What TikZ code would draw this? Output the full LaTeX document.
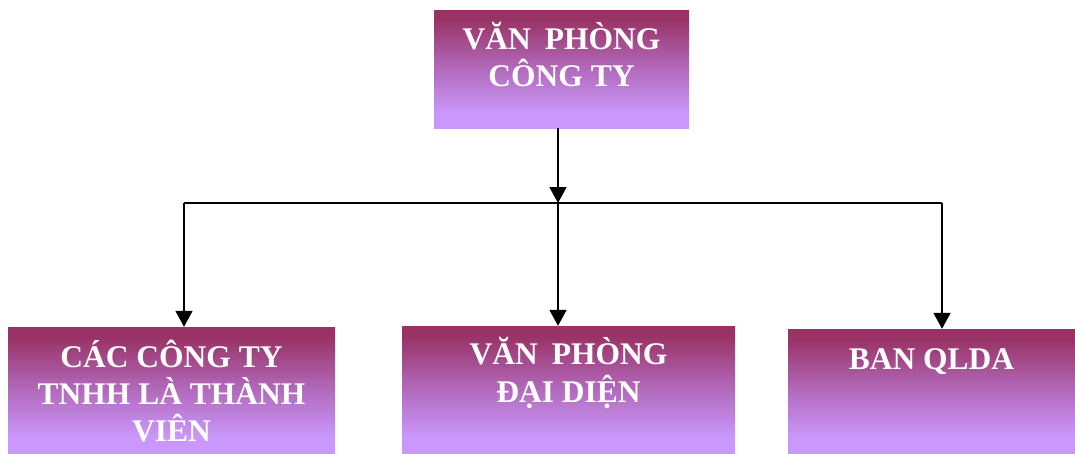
\documentclass[tikz,border=0pt]{standalone}
\usepackage{fontspec}
\setmainfont{Liberation Serif}
\usetikzlibrary{arrows.meta}
\definecolor{boxdark}{RGB}{153,51,102}
\definecolor{boxmid}{RGB}{178,106,188}
\definecolor{boxlight}{RGB}{202,152,252}
\pgfdeclareverticalshading{boxshade}{100bp}{color(0bp)=(boxlight); color(25bp)=(boxlight); color(31bp)=(boxlight); color(50bp)=(boxmid); color(71bp)=(boxdark); color(75bp)=(boxdark); color(100bp)=(boxdark)}
\tikzset{
  orgbox/.style={rectangle, draw=none, shading=boxshade, inner sep=0pt},
  boxtext/.style={anchor=base, text=white, inner sep=0pt, font=\fontsize{31.5}{37}\selectfont\bfseries},
  conn/.style={line width=1.8pt, draw=black},
  arr/.style={conn, -{Triangle[width=17pt,length=16pt]}}
}
\begin{document}
\begin{tikzpicture}[x=1pt,y=-1pt]
\useasboundingbox (0,0) rectangle (1075,453);
% boxes
\node[orgbox, minimum width=255pt, minimum height=118pt] (top) at (561.5,69) {};
\node[orgbox, minimum width=327pt, minimum height=126pt] (left) at (171.5,390) {};
\node[orgbox, minimum width=333pt, minimum height=127pt] (mid) at (568.5,389.5) {};
\node[orgbox, minimum width=287pt, minimum height=124pt] (right) at (931.5,391) {};
% texts
\node[boxtext] (t1) at ([yshift=-40pt]top.north) {VĂN\hspace{0.2em} PHÒNG};
\node[boxtext] (t2) at ([yshift=-77pt]top.north) {CÔNG TY};
\node[boxtext] (l1) at ([yshift=-41pt]left.north) {CÁC CÔNG TY};
\node[boxtext] (l2) at ([yshift=-78pt]left.north) {TNHH LÀ THÀNH};
\node[boxtext] (l3) at ([yshift=-115pt]left.north) {VIÊN};
\node[boxtext] (m1) at ([yshift=-39pt]mid.north) {VĂN\hspace{0.2em} PHÒNG};
\node[boxtext] (m2) at ([yshift=-77pt]mid.north) {ĐẠI DIỆN};
\node[boxtext] (r1) at ([yshift=-41pt]right.north) {BAN QLDA};
% connectors
\coordinate (junc) at (558,203);
\coordinate (lc) at (184,203);
\coordinate (rc) at (942,203);
\draw[arr] (top.south -| junc) -- (junc);
\draw[conn] (lc) -- (rc);
\draw[arr] (lc) -- (lc |- left.north);
\draw[arr] (junc) -- (junc |- mid.north);
\draw[arr] (rc) -- (rc |- right.north);
\end{tikzpicture}
\end{document}
